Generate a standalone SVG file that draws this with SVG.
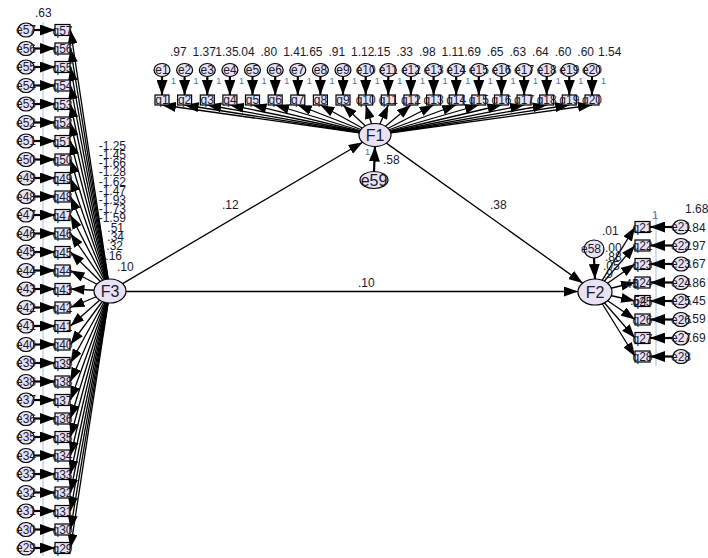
<svg xmlns="http://www.w3.org/2000/svg" width="708" height="558" viewBox="0 0 708 558">
<defs>
<marker id="ah" viewBox="0 0 14 10" refX="14" refY="5" markerWidth="14" markerHeight="10" markerUnits="userSpaceOnUse" orient="auto"><path d="M0,0 L14,5 L0,10 z" fill="#000"/></marker>
<marker id="ahb" viewBox="0 0 15 11" refX="15" refY="5.5" markerWidth="15" markerHeight="11" markerUnits="userSpaceOnUse" orient="auto"><path d="M0,0 L15,5.5 L0,11 z" fill="#000"/></marker>
</defs>
<style>
.c line{stroke:#000;stroke-width:1.3;marker-end:url(#ah)}
.c line.e{marker-end:url(#ahb);stroke-width:2.2}
.n ellipse,.n rect{fill:#e8e2f4;stroke:#000;stroke-width:1.2}
text{font-family:"Liberation Sans",Arial,sans-serif;fill:#1a1a2e}
.n text{font-size:12px;text-anchor:middle}
.n text.big{font-size:16px}
.lb{font-size:12px}
.one{font-size:9px;fill:#4a6fb0}
.guide{stroke:#9cc2e6;stroke-width:1}
</style>
<rect width="708" height="558" fill="#fff"/>
<line class="guide" x1="43" y1="22" x2="43" y2="556"/>
<line class="guide" x1="656" y1="214" x2="656" y2="366"/>
<g id="connectors" class="c">
<line x1="122.6" y1="283.6" x2="362.6" y2="142.3"/>
<line x1="126" y1="291.5" x2="578" y2="291.5"/>
<line x1="386.4" y1="143.1" x2="582.6" y2="283.1"/>
<line class="e" x1="374" y1="171.5" x2="375" y2="146.5"/>
<line class="e" x1="594" y1="258" x2="595" y2="279"/>
<line class="e" x1="162" y1="76.5" x2="162" y2="95"/>
<line class="e" x1="184.6" y1="76.5" x2="184.6" y2="95"/>
<line class="e" x1="207.3" y1="76.5" x2="207.3" y2="95"/>
<line class="e" x1="229.9" y1="76.5" x2="229.9" y2="95"/>
<line class="e" x1="252.5" y1="76.5" x2="252.5" y2="95"/>
<line class="e" x1="275.2" y1="76.5" x2="275.2" y2="95"/>
<line class="e" x1="297.8" y1="76.5" x2="297.8" y2="95"/>
<line class="e" x1="320.4" y1="76.5" x2="320.4" y2="95"/>
<line class="e" x1="343" y1="76.5" x2="343" y2="95"/>
<line class="e" x1="365.7" y1="76.5" x2="365.7" y2="95"/>
<line class="e" x1="388.3" y1="76.5" x2="388.3" y2="95"/>
<line class="e" x1="410.9" y1="76.5" x2="410.9" y2="95"/>
<line class="e" x1="433.6" y1="76.5" x2="433.6" y2="95"/>
<line class="e" x1="456.2" y1="76.5" x2="456.2" y2="95"/>
<line class="e" x1="478.8" y1="76.5" x2="478.8" y2="95"/>
<line class="e" x1="501.5" y1="76.5" x2="501.5" y2="95"/>
<line class="e" x1="524.1" y1="76.5" x2="524.1" y2="95"/>
<line class="e" x1="546.7" y1="76.5" x2="546.7" y2="95"/>
<line class="e" x1="569.3" y1="76.5" x2="569.3" y2="95"/>
<line class="e" x1="592" y1="76.5" x2="592" y2="95"/>
<line x1="375" y1="135" x2="162" y2="105"/>
<line x1="375" y1="135" x2="184.6" y2="105"/>
<line x1="375" y1="135" x2="207.3" y2="105"/>
<line x1="375" y1="135" x2="229.9" y2="105"/>
<line x1="375" y1="135" x2="252.5" y2="105"/>
<line x1="375" y1="135" x2="275.2" y2="105"/>
<line x1="375" y1="135" x2="297.8" y2="105"/>
<line x1="375" y1="135" x2="320.4" y2="105"/>
<line x1="375" y1="135" x2="343" y2="105"/>
<line x1="375" y1="135" x2="365.7" y2="105"/>
<line x1="375" y1="135" x2="388.3" y2="105"/>
<line x1="375" y1="135" x2="410.9" y2="105"/>
<line x1="375" y1="135" x2="433.6" y2="105"/>
<line x1="375" y1="135" x2="456.2" y2="105"/>
<line x1="375" y1="135" x2="478.8" y2="105"/>
<line x1="375" y1="135" x2="501.5" y2="105"/>
<line x1="375" y1="135" x2="524.1" y2="105"/>
<line x1="375" y1="135" x2="546.7" y2="105"/>
<line x1="375" y1="135" x2="569.3" y2="105"/>
<line x1="375" y1="135" x2="592" y2="105"/>
<line class="e" x1="34" y1="30" x2="55" y2="30"/>
<line class="e" x1="34" y1="48.5" x2="55" y2="48.5"/>
<line class="e" x1="34" y1="67" x2="55" y2="67"/>
<line class="e" x1="34" y1="85.5" x2="55" y2="85.5"/>
<line class="e" x1="34" y1="104" x2="55" y2="104"/>
<line class="e" x1="34" y1="122.5" x2="55" y2="122.5"/>
<line class="e" x1="34" y1="141" x2="55" y2="141"/>
<line class="e" x1="34" y1="159.5" x2="55" y2="159.5"/>
<line class="e" x1="34" y1="178" x2="55" y2="178"/>
<line class="e" x1="34" y1="196.5" x2="55" y2="196.5"/>
<line class="e" x1="34" y1="215" x2="55" y2="215"/>
<line class="e" x1="34" y1="233.5" x2="55" y2="233.5"/>
<line class="e" x1="34" y1="252" x2="55" y2="252"/>
<line class="e" x1="34" y1="270.5" x2="55" y2="270.5"/>
<line class="e" x1="34" y1="289" x2="55" y2="289"/>
<line class="e" x1="34" y1="307.5" x2="55" y2="307.5"/>
<line class="e" x1="34" y1="326" x2="55" y2="326"/>
<line class="e" x1="34" y1="344.5" x2="55" y2="344.5"/>
<line class="e" x1="34" y1="363" x2="55" y2="363"/>
<line class="e" x1="34" y1="381.5" x2="55" y2="381.5"/>
<line class="e" x1="34" y1="400" x2="55" y2="400"/>
<line class="e" x1="34" y1="418.5" x2="55" y2="418.5"/>
<line class="e" x1="34" y1="437" x2="55" y2="437"/>
<line class="e" x1="34" y1="455.5" x2="55" y2="455.5"/>
<line class="e" x1="34" y1="474" x2="55" y2="474"/>
<line class="e" x1="34" y1="492.5" x2="55" y2="492.5"/>
<line class="e" x1="34" y1="511" x2="55" y2="511"/>
<line class="e" x1="34" y1="529.5" x2="55" y2="529.5"/>
<line class="e" x1="34" y1="548" x2="55" y2="548"/>
<line x1="110" y1="291" x2="70.5" y2="30"/>
<line x1="110" y1="291" x2="70.5" y2="48.5"/>
<line x1="110" y1="291" x2="70.5" y2="67"/>
<line x1="110" y1="291" x2="70.5" y2="85.5"/>
<line x1="110" y1="291" x2="70.5" y2="104"/>
<line x1="110" y1="291" x2="70.5" y2="122.5"/>
<line x1="110" y1="291" x2="70.5" y2="141"/>
<line x1="110" y1="291" x2="70.5" y2="159.5"/>
<line x1="110" y1="291" x2="70.5" y2="178"/>
<line x1="110" y1="291" x2="70.5" y2="196.5"/>
<line x1="110" y1="291" x2="70.5" y2="215"/>
<line x1="110" y1="291" x2="70.5" y2="233.5"/>
<line x1="110" y1="291" x2="70.5" y2="252"/>
<line x1="110" y1="291" x2="70.5" y2="270.5"/>
<line x1="110" y1="291" x2="70.5" y2="289"/>
<line x1="110" y1="291" x2="70.5" y2="307.5"/>
<line x1="110" y1="291" x2="70.5" y2="326"/>
<line x1="110" y1="291" x2="70.5" y2="344.5"/>
<line x1="110" y1="291" x2="70.5" y2="363"/>
<line x1="110" y1="291" x2="70.5" y2="381.5"/>
<line x1="110" y1="291" x2="70.5" y2="400"/>
<line x1="110" y1="291" x2="70.5" y2="418.5"/>
<line x1="110" y1="291" x2="70.5" y2="437"/>
<line x1="110" y1="291" x2="70.5" y2="455.5"/>
<line x1="110" y1="291" x2="70.5" y2="474"/>
<line x1="110" y1="291" x2="70.5" y2="492.5"/>
<line x1="110" y1="291" x2="70.5" y2="511"/>
<line x1="110" y1="291" x2="70.5" y2="529.5"/>
<line x1="110" y1="291" x2="70.5" y2="548"/>
<line x1="595" y1="292" x2="635" y2="227"/>
<line x1="595" y1="292" x2="635" y2="245.5"/>
<line x1="595" y1="292" x2="635" y2="264"/>
<line x1="595" y1="292" x2="635" y2="282.5"/>
<line x1="595" y1="292" x2="635" y2="301"/>
<line x1="595" y1="292" x2="635" y2="319.5"/>
<line x1="595" y1="292" x2="635" y2="338"/>
<line x1="595" y1="292" x2="635" y2="356.5"/>
<line class="e" x1="673" y1="227" x2="650" y2="227"/>
<line class="e" x1="673" y1="245.5" x2="650" y2="245.5"/>
<line class="e" x1="673" y1="264" x2="650" y2="264"/>
<line class="e" x1="673" y1="282.5" x2="650" y2="282.5"/>
<line class="e" x1="673" y1="301" x2="650" y2="301"/>
<line class="e" x1="673" y1="319.5" x2="650" y2="319.5"/>
<line class="e" x1="673" y1="338" x2="650" y2="338"/>
<line class="e" x1="673" y1="356.5" x2="650" y2="356.5"/>
</g>
<g id="F1" class="n"><ellipse cx="375" cy="135" rx="16" ry="11.5"/><text class="big" x="375" y="141">F1</text></g>
<g id="F2" class="n"><ellipse cx="595" cy="292" rx="17" ry="13"/><text class="big" x="595" y="298">F2</text></g>
<g id="F3" class="n"><ellipse cx="110" cy="291" rx="16" ry="12"/><text class="big" x="110" y="297">F3</text></g>
<g id="e59" class="n"><ellipse cx="374" cy="180" rx="14" ry="8.5"/><text class="big" x="374" y="186">e59</text></g>
<g id="e58" class="n"><ellipse cx="594" cy="249" rx="10" ry="9"/><text x="591" y="253">e58</text></g>
<g id="e1" class="n"><ellipse cx="162" cy="70" rx="8" ry="6.5"/><text x="162" y="74">e1</text></g>
<g id="e2" class="n"><ellipse cx="184.6" cy="70" rx="8" ry="6.5"/><text x="184.6" y="74">e2</text></g>
<g id="e3" class="n"><ellipse cx="207.3" cy="70" rx="8" ry="6.5"/><text x="207.3" y="74">e3</text></g>
<g id="e4" class="n"><ellipse cx="229.9" cy="70" rx="8" ry="6.5"/><text x="229.9" y="74">e4</text></g>
<g id="e5" class="n"><ellipse cx="252.5" cy="70" rx="8" ry="6.5"/><text x="252.5" y="74">e5</text></g>
<g id="e6" class="n"><ellipse cx="275.2" cy="70" rx="8" ry="6.5"/><text x="275.2" y="74">e6</text></g>
<g id="e7" class="n"><ellipse cx="297.8" cy="70" rx="8" ry="6.5"/><text x="297.8" y="74">e7</text></g>
<g id="e8" class="n"><ellipse cx="320.4" cy="70" rx="8" ry="6.5"/><text x="320.4" y="74">e8</text></g>
<g id="e9" class="n"><ellipse cx="343" cy="70" rx="8" ry="6.5"/><text x="343" y="74">e9</text></g>
<g id="e10" class="n"><ellipse cx="365.7" cy="70" rx="8" ry="6.5"/><text x="365.7" y="74">e10</text></g>
<g id="e11" class="n"><ellipse cx="388.3" cy="70" rx="8" ry="6.5"/><text x="388.3" y="74">e11</text></g>
<g id="e12" class="n"><ellipse cx="410.9" cy="70" rx="8" ry="6.5"/><text x="410.9" y="74">e12</text></g>
<g id="e13" class="n"><ellipse cx="433.6" cy="70" rx="8" ry="6.5"/><text x="433.6" y="74">e13</text></g>
<g id="e14" class="n"><ellipse cx="456.2" cy="70" rx="8" ry="6.5"/><text x="456.2" y="74">e14</text></g>
<g id="e15" class="n"><ellipse cx="478.8" cy="70" rx="8" ry="6.5"/><text x="478.8" y="74">e15</text></g>
<g id="e16" class="n"><ellipse cx="501.5" cy="70" rx="8" ry="6.5"/><text x="501.5" y="74">e16</text></g>
<g id="e17" class="n"><ellipse cx="524.1" cy="70" rx="8" ry="6.5"/><text x="524.1" y="74">e17</text></g>
<g id="e18" class="n"><ellipse cx="546.7" cy="70" rx="8" ry="6.5"/><text x="546.7" y="74">e18</text></g>
<g id="e19" class="n"><ellipse cx="569.3" cy="70" rx="8" ry="6.5"/><text x="569.3" y="74">e19</text></g>
<g id="e20" class="n"><ellipse cx="592" cy="70" rx="8" ry="6.5"/><text x="592" y="74">e20</text></g>
<g id="q1" class="n"><rect x="155" y="95" width="14" height="10"/><text x="162" y="104">q1</text></g>
<g id="q2" class="n"><rect x="177.6" y="95" width="14" height="10"/><text x="184.6" y="104">q2</text></g>
<g id="q3" class="n"><rect x="200.3" y="95" width="14" height="10"/><text x="207.3" y="104">q3</text></g>
<g id="q4" class="n"><rect x="222.9" y="95" width="14" height="10"/><text x="229.9" y="104">q4</text></g>
<g id="q5" class="n"><rect x="245.5" y="95" width="14" height="10"/><text x="252.5" y="104">q5</text></g>
<g id="q6" class="n"><rect x="268.2" y="95" width="14" height="10"/><text x="275.2" y="104">q6</text></g>
<g id="q7" class="n"><rect x="290.8" y="95" width="14" height="10"/><text x="297.8" y="104">q7</text></g>
<g id="q8" class="n"><rect x="313.4" y="95" width="14" height="10"/><text x="320.4" y="104">q8</text></g>
<g id="q9" class="n"><rect x="336" y="95" width="14" height="10"/><text x="343" y="104">q9</text></g>
<g id="q10" class="n"><rect x="358.7" y="95" width="14" height="10"/><text x="365.7" y="104">q10</text></g>
<g id="q11" class="n"><rect x="381.3" y="95" width="14" height="10"/><text x="388.3" y="104">q11</text></g>
<g id="q12" class="n"><rect x="403.9" y="95" width="14" height="10"/><text x="410.9" y="104">q12</text></g>
<g id="q13" class="n"><rect x="426.6" y="95" width="14" height="10"/><text x="433.6" y="104">q13</text></g>
<g id="q14" class="n"><rect x="449.2" y="95" width="14" height="10"/><text x="456.2" y="104">q14</text></g>
<g id="q15" class="n"><rect x="471.8" y="95" width="14" height="10"/><text x="478.8" y="104">q15</text></g>
<g id="q16" class="n"><rect x="494.5" y="95" width="14" height="10"/><text x="501.5" y="104">q16</text></g>
<g id="q17" class="n"><rect x="517.1" y="95" width="14" height="10"/><text x="524.1" y="104">q17</text></g>
<g id="q18" class="n"><rect x="539.7" y="95" width="14" height="10"/><text x="546.7" y="104">q18</text></g>
<g id="q19" class="n"><rect x="562.3" y="95" width="14" height="10"/><text x="569.3" y="104">q19</text></g>
<g id="q20" class="n"><rect x="585" y="95" width="14" height="10"/><text x="592" y="104">q20</text></g>
<g id="e57" class="n"><ellipse cx="26" cy="30" rx="8" ry="7"/><text x="26" y="34">e57</text></g>
<g id="e56" class="n"><ellipse cx="26" cy="48.5" rx="8" ry="7"/><text x="26" y="52.5">e56</text></g>
<g id="e55" class="n"><ellipse cx="26" cy="67" rx="8" ry="7"/><text x="26" y="71">e55</text></g>
<g id="e54" class="n"><ellipse cx="26" cy="85.5" rx="8" ry="7"/><text x="26" y="89.5">e54</text></g>
<g id="e53" class="n"><ellipse cx="26" cy="104" rx="8" ry="7"/><text x="26" y="108">e53</text></g>
<g id="e52" class="n"><ellipse cx="26" cy="122.5" rx="8" ry="7"/><text x="26" y="126.5">e52</text></g>
<g id="e51" class="n"><ellipse cx="26" cy="141" rx="8" ry="7"/><text x="26" y="145">e51</text></g>
<g id="e50" class="n"><ellipse cx="26" cy="159.5" rx="8" ry="7"/><text x="26" y="163.5">e50</text></g>
<g id="e49" class="n"><ellipse cx="26" cy="178" rx="8" ry="7"/><text x="26" y="182">e49</text></g>
<g id="e48" class="n"><ellipse cx="26" cy="196.5" rx="8" ry="7"/><text x="26" y="200.5">e48</text></g>
<g id="e47" class="n"><ellipse cx="26" cy="215" rx="8" ry="7"/><text x="26" y="219">e47</text></g>
<g id="e46" class="n"><ellipse cx="26" cy="233.5" rx="8" ry="7"/><text x="26" y="237.5">e46</text></g>
<g id="e45" class="n"><ellipse cx="26" cy="252" rx="8" ry="7"/><text x="26" y="256">e45</text></g>
<g id="e44" class="n"><ellipse cx="26" cy="270.5" rx="8" ry="7"/><text x="26" y="274.5">e44</text></g>
<g id="e43" class="n"><ellipse cx="26" cy="289" rx="8" ry="7"/><text x="26" y="293">e43</text></g>
<g id="e42" class="n"><ellipse cx="26" cy="307.5" rx="8" ry="7"/><text x="26" y="311.5">e42</text></g>
<g id="e41" class="n"><ellipse cx="26" cy="326" rx="8" ry="7"/><text x="26" y="330">e41</text></g>
<g id="e40" class="n"><ellipse cx="26" cy="344.5" rx="8" ry="7"/><text x="26" y="348.5">e40</text></g>
<g id="e39" class="n"><ellipse cx="26" cy="363" rx="8" ry="7"/><text x="26" y="367">e39</text></g>
<g id="e38" class="n"><ellipse cx="26" cy="381.5" rx="8" ry="7"/><text x="26" y="385.5">e38</text></g>
<g id="e37" class="n"><ellipse cx="26" cy="400" rx="8" ry="7"/><text x="26" y="404">e37</text></g>
<g id="e36" class="n"><ellipse cx="26" cy="418.5" rx="8" ry="7"/><text x="26" y="422.5">e36</text></g>
<g id="e35" class="n"><ellipse cx="26" cy="437" rx="8" ry="7"/><text x="26" y="441">e35</text></g>
<g id="e34" class="n"><ellipse cx="26" cy="455.5" rx="8" ry="7"/><text x="26" y="459.5">e34</text></g>
<g id="e33" class="n"><ellipse cx="26" cy="474" rx="8" ry="7"/><text x="26" y="478">e33</text></g>
<g id="e32" class="n"><ellipse cx="26" cy="492.5" rx="8" ry="7"/><text x="26" y="496.5">e32</text></g>
<g id="e31" class="n"><ellipse cx="26" cy="511" rx="8" ry="7"/><text x="26" y="515">e31</text></g>
<g id="e30" class="n"><ellipse cx="26" cy="529.5" rx="8" ry="7"/><text x="26" y="533.5">e30</text></g>
<g id="e29" class="n"><ellipse cx="26" cy="548" rx="8" ry="7"/><text x="26" y="552">e29</text></g>
<g id="q57" class="n"><rect x="55" y="24.5" width="15" height="11"/><text x="62.5" y="34.5">q57</text></g>
<g id="q56" class="n"><rect x="55" y="43" width="15" height="11"/><text x="62.5" y="53">q56</text></g>
<g id="q55" class="n"><rect x="55" y="61.5" width="15" height="11"/><text x="62.5" y="71.5">q55</text></g>
<g id="q54" class="n"><rect x="55" y="80" width="15" height="11"/><text x="62.5" y="90">q54</text></g>
<g id="q53" class="n"><rect x="55" y="98.5" width="15" height="11"/><text x="62.5" y="108.5">q53</text></g>
<g id="q52" class="n"><rect x="55" y="117" width="15" height="11"/><text x="62.5" y="127">q52</text></g>
<g id="q51" class="n"><rect x="55" y="135.5" width="15" height="11"/><text x="62.5" y="145.5">q51</text></g>
<g id="q50" class="n"><rect x="55" y="154" width="15" height="11"/><text x="62.5" y="164">q50</text></g>
<g id="q49" class="n"><rect x="55" y="172.5" width="15" height="11"/><text x="62.5" y="182.5">q49</text></g>
<g id="q48" class="n"><rect x="55" y="191" width="15" height="11"/><text x="62.5" y="201">q48</text></g>
<g id="q47" class="n"><rect x="55" y="209.5" width="15" height="11"/><text x="62.5" y="219.5">q47</text></g>
<g id="q46" class="n"><rect x="55" y="228" width="15" height="11"/><text x="62.5" y="238">q46</text></g>
<g id="q45" class="n"><rect x="55" y="246.5" width="15" height="11"/><text x="62.5" y="256.5">q45</text></g>
<g id="q44" class="n"><rect x="55" y="265" width="15" height="11"/><text x="62.5" y="275">q44</text></g>
<g id="q43" class="n"><rect x="55" y="283.5" width="15" height="11"/><text x="62.5" y="293.5">q43</text></g>
<g id="q42" class="n"><rect x="55" y="302" width="15" height="11"/><text x="62.5" y="312">q42</text></g>
<g id="q41" class="n"><rect x="55" y="320.5" width="15" height="11"/><text x="62.5" y="330.5">q41</text></g>
<g id="q40" class="n"><rect x="55" y="339" width="15" height="11"/><text x="62.5" y="349">q40</text></g>
<g id="q39" class="n"><rect x="55" y="357.5" width="15" height="11"/><text x="62.5" y="367.5">q39</text></g>
<g id="q38" class="n"><rect x="55" y="376" width="15" height="11"/><text x="62.5" y="386">q38</text></g>
<g id="q37" class="n"><rect x="55" y="394.5" width="15" height="11"/><text x="62.5" y="404.5">q37</text></g>
<g id="q36" class="n"><rect x="55" y="413" width="15" height="11"/><text x="62.5" y="423">q36</text></g>
<g id="q35" class="n"><rect x="55" y="431.5" width="15" height="11"/><text x="62.5" y="441.5">q35</text></g>
<g id="q34" class="n"><rect x="55" y="450" width="15" height="11"/><text x="62.5" y="460">q34</text></g>
<g id="q33" class="n"><rect x="55" y="468.5" width="15" height="11"/><text x="62.5" y="478.5">q33</text></g>
<g id="q32" class="n"><rect x="55" y="487" width="15" height="11"/><text x="62.5" y="497">q32</text></g>
<g id="q31" class="n"><rect x="55" y="505.5" width="15" height="11"/><text x="62.5" y="515.5">q31</text></g>
<g id="q30" class="n"><rect x="55" y="524" width="15" height="11"/><text x="62.5" y="534">q30</text></g>
<g id="q29" class="n"><rect x="55" y="542.5" width="15" height="11"/><text x="62.5" y="552.5">q29</text></g>
<g id="q21" class="n"><rect x="635" y="221.5" width="15" height="11"/><text x="642.5" y="231.5">q21</text></g>
<g id="q22" class="n"><rect x="635" y="240" width="15" height="11"/><text x="642.5" y="250">q22</text></g>
<g id="q23" class="n"><rect x="635" y="258.5" width="15" height="11"/><text x="642.5" y="268.5">q23</text></g>
<g id="q24" class="n"><rect x="635" y="277" width="15" height="11"/><text x="642.5" y="287">q24</text></g>
<g id="q25" class="n"><rect x="635" y="295.5" width="15" height="11"/><text x="642.5" y="305.5">q25</text></g>
<g id="q26" class="n"><rect x="635" y="314" width="15" height="11"/><text x="642.5" y="324">q26</text></g>
<g id="q27" class="n"><rect x="635" y="332.5" width="15" height="11"/><text x="642.5" y="342.5">q27</text></g>
<g id="q28" class="n"><rect x="635" y="351" width="15" height="11"/><text x="642.5" y="361">q28</text></g>
<g id="e21" class="n"><ellipse cx="681" cy="227" rx="8" ry="7"/><text x="681" y="231">e21</text></g>
<g id="e22" class="n"><ellipse cx="681" cy="245.5" rx="8" ry="7"/><text x="681" y="249.5">e22</text></g>
<g id="e23" class="n"><ellipse cx="681" cy="264" rx="8" ry="7"/><text x="681" y="268">e23</text></g>
<g id="e24" class="n"><ellipse cx="681" cy="282.5" rx="8" ry="7"/><text x="681" y="286.5">e24</text></g>
<g id="e25" class="n"><ellipse cx="681" cy="301" rx="8" ry="7"/><text x="681" y="305">e25</text></g>
<g id="e26" class="n"><ellipse cx="681" cy="319.5" rx="8" ry="7"/><text x="681" y="323.5">e26</text></g>
<g id="e27" class="n"><ellipse cx="681" cy="338" rx="8" ry="7"/><text x="681" y="342">e27</text></g>
<g id="e28" class="n"><ellipse cx="681" cy="356.5" rx="8" ry="7"/><text x="681" y="360.5">e28</text></g>
<g id="labels">
<text class="lb" x="222" y="209">.12</text>
<text class="lb" x="358" y="287">.10</text>
<text class="lb" x="490" y="209">.38</text>
<text class="lb" x="383" y="164">.58</text>
<text class="one" x="365" y="155">1</text>
<text class="lb" x="35" y="17">.63</text>
<text class="lb" x="170" y="56">.97</text>
<text class="lb" x="192.6" y="56">1.37</text>
<text class="lb" x="215.3" y="56">1.35</text>
<text class="lb" x="237.9" y="56">.04</text>
<text class="lb" x="260.5" y="56">.80</text>
<text class="lb" x="283.2" y="56">1.41</text>
<text class="lb" x="305.8" y="56">.65</text>
<text class="lb" x="328.4" y="56">.91</text>
<text class="lb" x="351" y="56">1.12</text>
<text class="lb" x="373.7" y="56">.15</text>
<text class="lb" x="396.3" y="56">.33</text>
<text class="lb" x="418.9" y="56">.98</text>
<text class="lb" x="441.6" y="56">1.11</text>
<text class="lb" x="464.2" y="56">.69</text>
<text class="lb" x="486.8" y="56">.65</text>
<text class="lb" x="509.5" y="56">.63</text>
<text class="lb" x="532.1" y="56">.64</text>
<text class="lb" x="554.7" y="56">.60</text>
<text class="lb" x="577.3" y="56">.60</text>
<text class="lb" x="598" y="56">1.54</text>
<text class="one" x="171" y="84">1</text><text class="one" x="193.6" y="84">1</text><text class="one" x="216.3" y="84">1</text><text class="one" x="238.9" y="84">1</text><text class="one" x="261.5" y="84">1</text><text class="one" x="284.2" y="84">1</text><text class="one" x="306.8" y="84">1</text><text class="one" x="329.4" y="84">1</text><text class="one" x="352" y="84">1</text><text class="one" x="374.7" y="84">1</text><text class="one" x="397.3" y="84">1</text><text class="one" x="419.9" y="84">1</text><text class="one" x="442.6" y="84">1</text><text class="one" x="465.2" y="84">1</text><text class="one" x="487.8" y="84">1</text><text class="one" x="510.5" y="84">1</text><text class="one" x="533.1" y="84">1</text><text class="one" x="555.7" y="84">1</text><text class="one" x="578.3" y="84">1</text><text class="one" x="601" y="84">1</text>
<g text-anchor="end">
<text class="lb" x="126" y="150">-1.25</text>
<text class="lb" x="126" y="159">-1.45</text>
<text class="lb" x="126" y="167">-1.66</text>
<text class="lb" x="126" y="176">-1.28</text>
<text class="lb" x="126" y="186">-1.62</text>
<text class="lb" x="126" y="195">-1.47</text>
<text class="lb" x="126" y="204">-1.93</text>
<text class="lb" x="126" y="213">-1.73</text>
<text class="lb" x="126" y="222">-1.59</text>
<text class="lb" x="124" y="232">.51</text>
<text class="lb" x="124" y="241">.34</text>
<text class="lb" x="123" y="250">.32</text>
<text class="lb" x="122" y="260">.16</text>
</g>
<text class="lb" x="117" y="271">.10</text>
<text class="lb" x="602" y="235">.01</text>
<text class="lb" x="605" y="252">.00</text>
<text class="lb" x="605" y="261">.88</text>
<text class="lb" x="603" y="270">.05</text>
<text class="lb" x="603" y="278">.9</text>
<text class="lb" x="622" y="288">.45</text>
<text class="lb" x="630" y="305">.54</text>
<text class="one" x="652" y="219" style="font-size:11px">1</text>
<text class="lb" x="685" y="213">1.68</text>
<text class="lb" x="689" y="232">.84</text>
<text class="lb" x="689" y="250">.97</text>
<text class="lb" x="689" y="268">.67</text>
<text class="lb" x="689" y="287">.86</text>
<text class="lb" x="689" y="305">.45</text>
<text class="lb" x="689" y="323">.59</text>
<text class="lb" x="689" y="342">.69</text>
</g>
</svg>
